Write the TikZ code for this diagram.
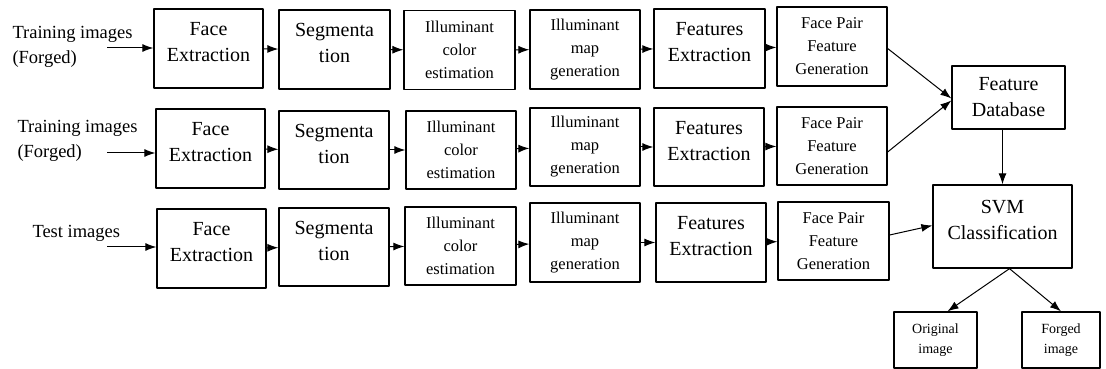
\documentclass[tikz,border=0pt]{standalone}
\usepackage{fontspec}
\setmainfont{Liberation Serif}
\usetikzlibrary{arrows.meta}
\newcommand{\liftup}[1]{\raisebox{5bp}[\height][\depth]{\begin{tabular}{@{}c@{}}#1\end{tabular}}}

\begin{document}
\begin{tikzpicture}[>={Latex[length=11bp,width=8bp]},line join=bevel,line width=1bp,
  stage/.style={draw,line width=1.3bp,inner sep=0pt,minimum width=110bp,minimum height=79bp},
  bigtxt/.style={font=\fontsize{20bp}{26bp}\selectfont,align=center},
  midtxt/.style={font=\fontsize{16.5bp}{23bp}\selectfont,align=center},
  smalltxt/.style={font=\fontsize{14bp}{20bp}\selectfont,align=center},
  intxt/.style={font=\fontsize{18.5bp}{25bp}\selectfont,align=left,anchor=west,inner sep=0pt},
]
\useasboundingbox (0bp,0bp) rectangle (1106bp,369bp);
%% inputs
\node (in_1) at (12bp,322bp) [intxt] {Training images\\(Forged)};
  \node (in_2) at (17bp,228bp) [intxt] {Training images\\(Forged)};
  \node (in_3) at (32bp,136bp) [intxt] {Test images};
  \coordinate (s_1) at (107bp,321bp);
  \coordinate (s_2) at (107bp,216bp);
  \coordinate (s_3) at (107bp,122bp);
%% row 1
\node (fe_1) at (208.5bp,320.5bp) [stage,bigtxt,minimum width=109bp] {\liftup{Face\\Extraction}};
  \node (seg_1) at (334.5bp,319.5bp) [stage,bigtxt,minimum width=111bp] {\liftup{Segmenta\\tion}};
  \node (ic_1) at (459.5bp,319bp) [stage,midtxt,minimum width=111bp] {Illuminant\\color\\estimation};
  \node (im_1) at (585bp,319.5bp) [stage,midtxt] {Illuminant\\map\\generation};
  \node (fx_1) at (709.5bp,320.5bp) [stage,bigtxt,minimum width=111bp] {\liftup{Features\\Extraction}};
  \node (fp_1) at (832bp,322.5bp) [stage,midtxt] {Face Pair\\Feature\\Generation};
%% row 2
\node (fe_2) at (210.5bp,220.5bp) [stage,bigtxt,minimum width=109bp] {\liftup{Face\\Extraction}};
  \node (seg_2) at (334bp,219bp) [stage,bigtxt,minimum height=78bp] {\liftup{Segmenta\\tion}};
  \node (ic_2) at (461bp,219bp) [stage,midtxt,minimum height=78bp] {Illuminant\\color\\estimation};
  \node (im_2) at (585bp,222bp) [stage,midtxt,minimum height=78bp] {Illuminant\\map\\generation};
  \node (fx_2) at (709bp,222bp) [stage,bigtxt,minimum height=78bp] {\liftup{Features\\Extraction}};
  \node (fp_2) at (832bp,223bp) [stage,midtxt,minimum height=78bp] {Face Pair\\Feature\\Generation};
%% row 3
\node (fe_3) at (211.5bp,120.5bp) [stage,bigtxt,minimum width=109bp] {\liftup{Face\\Extraction}};
  \node (seg_3) at (334bp,122bp) [stage,bigtxt,minimum height=78bp] {\liftup{Segmenta\\tion}};
  \node (ic_3) at (460.5bp,123bp) [stage,midtxt,minimum width=111bp,minimum height=78bp] {Illuminant\\color\\estimation};
  \node (im_3) at (585bp,126.5bp) [stage,midtxt] {Illuminant\\map\\generation};
  \node (fx_3) at (711bp,126.5bp) [stage,bigtxt] {\liftup{Features\\Extraction}};
  \node (fp_3) at (833.5bp,128bp) [stage,midtxt,minimum width=111bp,minimum height=78bp] {Face Pair\\Feature\\Generation};
%% classifier
\node (db) at (1008.5bp,271.5bp) [stage,bigtxt,minimum width=113bp,minimum height=63bp] {Feature\\Database};
  \node (svm) at (1002.5bp,142.5bp) [stage,bigtxt,minimum width=139bp,minimum height=83bp] {\liftup{SVM\\Classification}};
  \node (orig) at (935.5bp,29bp) [stage,smalltxt,minimum width=83bp,minimum height=56bp] {Original\\image};
  \node (forg) at (1061bp,29bp) [stage,smalltxt,minimum width=78bp,minimum height=56bp] {Forged\\image};
%% connectors
\draw [->] (s_1) -- (s_1 -| fe_1.west);
  \draw [->] (s_2) -- (s_2 -| fe_2.west);
  \draw [->] (s_3) -- (s_3 -| fe_3.west);
  \draw [->] (fe_1) -- (seg_1);
  \draw [->] (seg_1) -- (ic_1);
  \draw [->] (ic_1) -- (im_1);
  \draw [->] (im_1) -- (fx_1);
  \draw [->] (fx_1) -- (fp_1);
  \draw [->] (fe_2) -- (seg_2);
  \draw [->] (seg_2) -- (ic_2);
  \draw [->] (ic_2) -- (im_2);
  \draw [->] (im_2) -- (fx_2);
  \draw [->] (fx_2) -- (fp_2);
  \draw [->] (fe_3) -- (seg_3);
  \draw [->] (seg_3) -- (ic_3);
  \draw [->] (ic_3) -- (im_3);
  \draw [->] (im_3) -- (fx_3);
  \draw [->] (fx_3) -- (fp_3);
  \draw [->] ([yshift=-2bp]fp_1.east) -- ([yshift=-1bp]db.west);
  \draw [->] ([yshift=-6bp]fp_2.east) -- ([yshift=-3bp]db.west);
  \draw [->] ([yshift=6bp]fp_3.east) -- ([yshift=1bp]svm.west);
  \draw [->] (svm.north |- db.south) -- (svm);
  \draw [->] ([xshift=7bp]svm.south) -- ([xshift=12bp]orig.north);
  \draw [->] ([xshift=7bp]svm.south) -- (forg.north);
%
\end{tikzpicture}
\end{document}
